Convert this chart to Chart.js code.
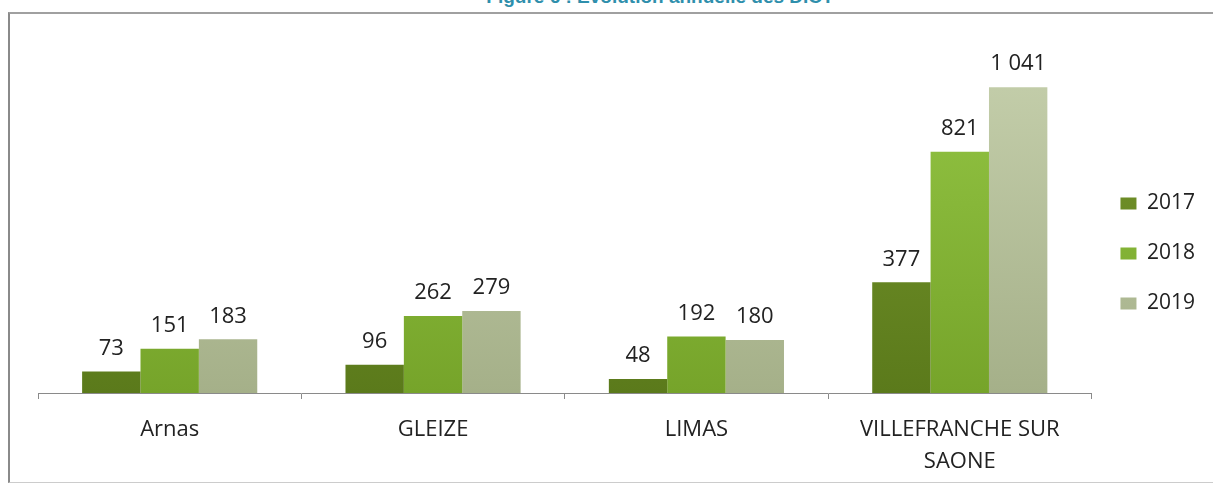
<!DOCTYPE html>
<html>
<head>
<meta charset="utf-8">
<script src="https://cdn.jsdelivr.net/npm/chart.js@4/dist/chart.umd.min.js"></script>
<style>
  body { margin: 0; background: #fff; width: 1213px; height: 484px; overflow: hidden; position: relative; }
  #title { position: absolute; top: -14px; left: 0; width: 1320px; text-align: center;
           font: bold 19px "Liberation Sans", Arial, sans-serif; color: #2f8fac; }
  #frame { position: absolute; left: 8px; top: 12px; width: 1210px; height: 468px;
           border-left: 2px solid #8a8a8a; border-top: 2px solid #a0a0a0; border-bottom: 1px solid #ccc; }
  #wrap { position: absolute; left: 10px; top: 14px; width: 1203px; height: 479px; }
</style>
</head>
<body>
<div id="title">Figure 6 : Évolution annuelle des DICT</div>
<div id="frame"></div>
<div id="wrap"><canvas id="bar-chart"></canvas></div>
<script>
// communes and DICT per year
const communes = ['Arnas', 'GLEIZE', 'LIMAS', ['VILLEFRANCHE SUR', 'SAONE']];
const years = ['2017', '2018', '2019'];
const dict2017 = [73, 96, 48, 377];
const dict2018 = [151, 262, 192, 821];
const dict2019 = [183, 279, 180, 1041];

const colors = [
    ['#7c9c30', '#5b7a1b'],
    ['#98ca48', '#76a42a'],
    ['#c9d3b0', '#a5b089']
];

function grad(i) {
    return function (context) {
        const chart = context.chart;
        const area = chart.chartArea;
        if (!area) return colors[i][0];
        const g = chart.ctx.createLinearGradient(0, area.top, 0, area.bottom);
        g.addColorStop(0, colors[i][0]);
        g.addColorStop(1, colors[i][1]);
        return g;
    };
}

function fmt(v) {
    return String(v).replace(/\B(?=(\d{3})+(?!\d))/g, ' ');
}

const valueLabels = {
    id: 'valueLabels',
    afterDatasetsDraw(chart) {
        const ctx = chart.ctx;
        ctx.save();
        ctx.font = '22px "Open Sans", sans-serif';
        ctx.fillStyle = '#222';
        ctx.textAlign = 'center';
        ctx.textBaseline = 'bottom';
        chart.data.datasets.forEach(function (ds, i) {
            chart.getDatasetMeta(i).data.forEach(function (bar, j) {
                ctx.fillText(fmt(ds.data[j]), bar.x, bar.y - 12);
            });
        });
        ctx.restore();
    }
};

const ctx = document.getElementById('bar-chart');
new Chart(ctx, {
    type: 'bar',
    data: {
        labels: communes,
        datasets: [
            { label: years[0], data: dict2017, backgroundColor: grad(0) },
            { label: years[1], data: dict2018, backgroundColor: grad(1) },
            { label: years[2], data: dict2019, backgroundColor: grad(2) }
        ]
    },
    options: {
        responsive: true,
        maintainAspectRatio: false,
        animation: false,
        datasets: { bar: { categoryPercentage: 0.665, barPercentage: 1.0 } },
        layout: { padding: { left: 28, top: 0, bottom: 0, right: 8 } },
        plugins: {
            tooltip: { enabled: false },
            legend: {
                position: 'right',
                labels: {
                    boxWidth: 16,
                    boxHeight: 12,
                    padding: 29,
                    color: '#222',
                    font: { size: 21, family: '"Open Sans", sans-serif' }
                }
            }
        },
        scales: {
            x: {
                border: { color: '#8a8a8a', width: 1 },
                grid: { offset: true, drawOnChartArea: false, drawTicks: true, tickLength: 6, color: '#8a8a8a' },
                ticks: { color: '#222', padding: 15, font: { size: 22, family: '"Open Sans", sans-serif', lineHeight: '32px' }, maxRotation: 0 }
            },
            y: { display: false, min: 0, max: 1290 }
        }
    },
    plugins: [valueLabels]
});
</script>
</body>
</html>
